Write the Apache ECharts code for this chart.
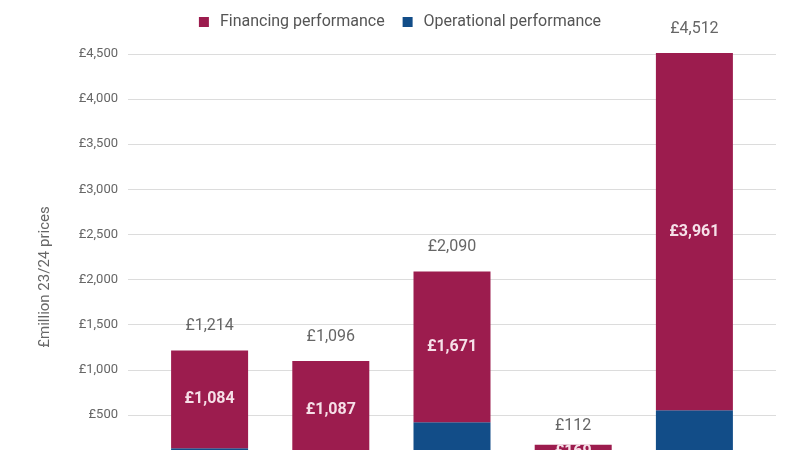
<!DOCTYPE html>
<html>
<head>
<meta charset="utf-8">
<script src="https://cdn.jsdelivr.net/npm/echarts@6/dist/echarts.min.js"></script>
<style>
  html, body { margin: 0; padding: 0; background: #fff; }
  #chart { width: 800px; height: 450px; }
</style>
</head>
<body>
<div id="chart"></div>
<script>
/**
 * 数据（底部类别标签在原图中被裁掉）
 */
var categories = ['1', '2', '3', '4', '5'];
var financing = [1084, 1087, 1671, 169, 3961];   // 融资表现
var operational = [130, 9, 419, -57, 551];       // 运营表现
var totals = [1214, 1096, 2090, 112, 4512];      // 合计

var yTicks = { min: 0, max: 4500, interval: 500 };

var finColor = '#9c1c4e';
var opColor = '#124d88';
var textGrey = '#666';

function gbp(v){
    return '£' + v.toLocaleString('en-GB');
}

var chart = echarts.init(document.getElementById('chart'));

chart.setOption({
    animation: false,
    textStyle: { fontFamily: 'Roboto' },
    legend: {
        data: ['Financing performance', 'Operational performance'],
        top: 9,
        left: 'center',
        itemWidth: 10,
        itemHeight: 10,
        itemGap: 18,
        icon: 'rect',
        textStyle: { fontSize: 16, color: '#555', fontFamily: 'Roboto', padding: [0, 0, 0, 6] }
    },
    grid: [
        { left: 149, right: 45, top: 54, bottom: -10, outerBoundsMode: 'none', containLabel: false },   // 柱子
        { left: 128, right: 24, top: 54, bottom: -10, outerBoundsMode: 'none', containLabel: false }    // 网格线和刻度
    ],
    xAxis: [
        {
            type: 'category', gridIndex: 0, data: categories,
            axisLine: { show: false }, axisTick: { show: false }, axisLabel: { show: false }
        },
        {
            type: 'category', gridIndex: 1, data: categories,
            show: false
        }
    ],
    yAxis: [
        {
            type: 'value', gridIndex: 0,
            min: yTicks.min, max: yTicks.max, interval: yTicks.interval,
            show: false
        },
        {
            type: 'value', gridIndex: 1,
            min: yTicks.min, max: yTicks.max, interval: yTicks.interval,
            axisLine: { show: false }, axisTick: { show: false },
            axisLabel: { formatter: gbp, color: textGrey, fontSize: 13, margin: 10 },
            splitLine: { lineStyle: { color: '#dcdcdc', width: 1 } }
        }
    ],
    graphic: [{
        type: 'text',
        x: 45, y: 277,
        rotation: Math.PI / 2,
        style: {
            text: '£million 23/24 prices',
            fill: textGrey, fontSize: 15, fontFamily: 'Roboto',
            align: 'center', verticalAlign: 'middle'
        }
    }],
    series: [
        {
            name: 'Operational performance', type: 'bar', stack: 'perf',
            xAxisIndex: 0, yAxisIndex: 0,
            barWidth: 77, clip: false,
            data: operational,
            itemStyle: { color: opColor }
        },
        {
            name: 'Financing performance', type: 'bar', stack: 'perf',
            xAxisIndex: 0, yAxisIndex: 0,
            barWidth: 77, clip: false,
            data: financing,
            itemStyle: { color: finColor },
            label: {
                show: true, position: 'inside',
                formatter: function(p){ return gbp(p.value); },
                color: '#f6e0e8', fontSize: 16, fontWeight: 'bold'
            }
        },
        {
            name: 'Total', type: 'bar',
            xAxisIndex: 0, yAxisIndex: 0,
            barWidth: 77, barGap: '-100%', clip: false, silent: true,
            data: totals,
            itemStyle: { color: 'rgba(0,0,0,0)' },
            label: {
                show: true, position: 'top', distance: 16,
                formatter: function(p){ return gbp(p.value); },
                color: textGrey, fontSize: 16
            }
        }
    ]
});
</script>
</body>
</html>
